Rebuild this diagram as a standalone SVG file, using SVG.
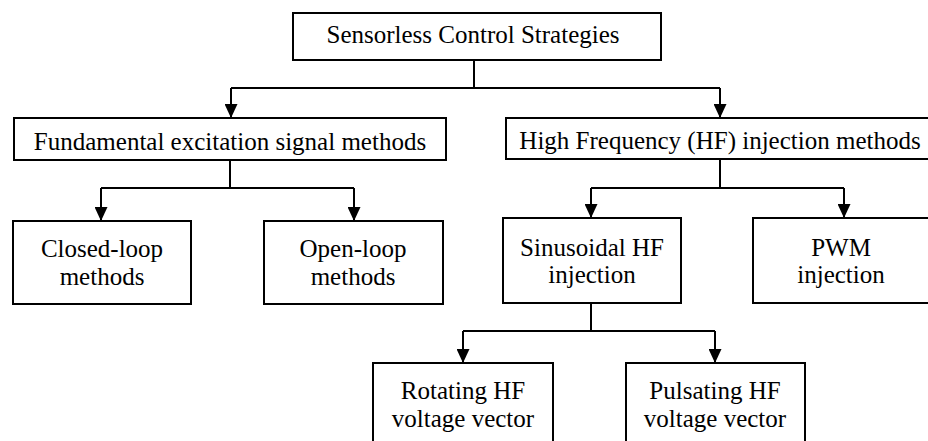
<svg xmlns="http://www.w3.org/2000/svg" width="928" height="441" viewBox="0 0 928 441">
<defs>
<style>
.box{fill:#fff;stroke:#000;stroke-width:2}
.t{font-family:'Liberation Serif','Times New Roman','DejaVu Serif',serif;font-size:25px;fill:#000;text-anchor:middle}
.c{fill:none;stroke:#000;stroke-width:2}
</style>
<marker id="arr" markerUnits="userSpaceOnUse" markerWidth="14" markerHeight="13" viewBox="0 0 14 13" refX="14" refY="6.5" orient="auto">
<path d="M0,0 L14,6.5 L0,13 Z" fill="#000"/>
</marker>
</defs>
<rect width="928" height="441" fill="#fff"/>
<g id="connectors">
<path class="c" d="M474,60 V88"/>
<path class="c" d="M231,88 H720"/>
<path class="c" d="M231,88 V118" marker-end="url(#arr)"/>
<path class="c" d="M720,88 V118" marker-end="url(#arr)"/>
<path class="c" d="M230,160 V188"/>
<path class="c" d="M101,188 H354"/>
<path class="c" d="M101,188 V221" marker-end="url(#arr)"/>
<path class="c" d="M354,188 V221" marker-end="url(#arr)"/>
<path class="c" d="M720,159 V188"/>
<path class="c" d="M591,188 H844"/>
<path class="c" d="M591,188 V218" marker-end="url(#arr)"/>
<path class="c" d="M844,188 V218" marker-end="url(#arr)"/>
<path class="c" d="M591,303 V331"/>
<path class="c" d="M463,331 H715"/>
<path class="c" d="M463,331 V363" marker-end="url(#arr)"/>
<path class="c" d="M715,331 V363" marker-end="url(#arr)"/>
</g>
<g id="root">
<rect class="box" x="293" y="13" width="368" height="47"/>
<text class="t" font-family="Liberation Serif, serif" x="473" y="43">Sensorless Control Strategies</text>
</g>
<g id="fundamental">
<rect class="box" x="14" y="118" width="432" height="42"/>
<text class="t" font-family="Liberation Serif, serif" x="230" y="150">Fundamental excitation signal methods</text>
</g>
<g id="hf">
<rect class="box" x="506" y="118" width="430" height="41"/>
<text class="t" font-family="Liberation Serif, serif" x="720" y="149">High Frequency (HF) injection methods</text>
</g>
<g id="closed">
<rect class="box" x="13" y="221" width="178" height="83"/>
<text class="t" font-family="Liberation Serif, serif" x="102" y="257">Closed-loop</text>
<text class="t" font-family="Liberation Serif, serif" x="102" y="285">methods</text>
</g>
<g id="open">
<rect class="box" x="264" y="221" width="179" height="83"/>
<text class="t" font-family="Liberation Serif, serif" x="353" y="257">Open-loop</text>
<text class="t" font-family="Liberation Serif, serif" x="353" y="285">methods</text>
</g>
<g id="sinusoidal">
<rect class="box" x="503" y="218" width="178" height="85"/>
<text class="t" font-family="Liberation Serif, serif" x="592" y="256">Sinusoidal HF</text>
<text class="t" font-family="Liberation Serif, serif" x="592" y="283">injection</text>
</g>
<g id="pwm">
<rect class="box" x="753" y="218" width="176" height="85"/>
<text class="t" font-family="Liberation Serif, serif" x="841" y="256">PWM</text>
<text class="t" font-family="Liberation Serif, serif" x="841" y="283">injection</text>
</g>
<g id="rotating">
<rect class="box" x="373" y="363" width="180" height="90"/>
<text class="t" font-family="Liberation Serif, serif" x="463" y="399">Rotating HF</text>
<text class="t" font-family="Liberation Serif, serif" x="463" y="427">voltage vector</text>
</g>
<g id="pulsating">
<rect class="box" x="626" y="363" width="179" height="90"/>
<text class="t" font-family="Liberation Serif, serif" x="715" y="399">Pulsating HF</text>
<text class="t" font-family="Liberation Serif, serif" x="715" y="427">voltage vector</text>
</g>
</svg>
